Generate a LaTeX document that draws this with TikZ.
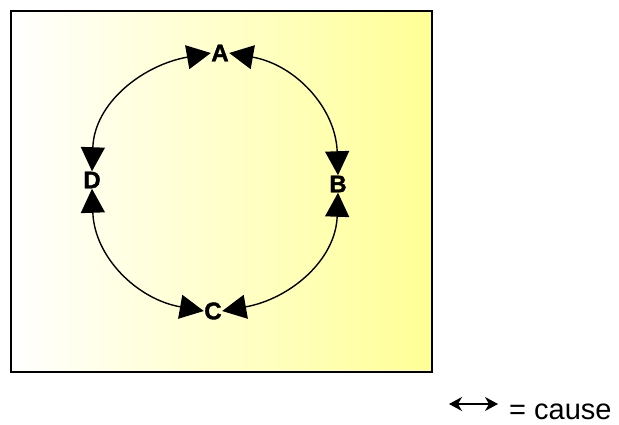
\documentclass[tikz,border=0pt]{standalone}
\usepackage{fontspec}
\setmainfont{Liberation Sans}
\newfontfamily\heavyfont{Liberation Sans Bold}[FakeBold=1.6]
\usetikzlibrary{arrows.meta}
\definecolor{paleyellow}{RGB}{255,255,150}
\tikzset{
  lbl/.style={font=\heavyfont\fontsize{24}{24}\selectfont, inner sep=0.3pt, text=black},
  link/.style={line width=1.4pt, {Triangle[length=24pt,width=24pt]}-{Triangle[length=24pt,width=24pt]}},
}
\begin{document}
\begin{tikzpicture}[x=1pt,y=1pt]
\useasboundingbox (0,0) rectangle (619,424);
\shade[left color=white, right color=paleyellow] (11,52) rectangle (432,413);
\draw[line width=1.2pt] (11,52) rectangle (432,413);
\node[lbl] (A) at (220,371) {A};
\node[lbl] (B) at (338,240) {B};
\node[lbl] (C) at (213,113) {C};
\node[lbl] (D) at (92,244) {D};
\draw[link] (A.east) to[out=-10, in=92, looseness=1.05] (B.north);
\draw[link] (A.west) to[out=190, in=88, looseness=1.05] (D.north);
\draw[link] (D.south) to[out=-88, in=170, looseness=1.05] (C.west);
\draw[link] (C.east) to[out=10, in=-92, looseness=1.05] (B.south);
\coordinate (l1) at (449,20);
\coordinate (l2) at (498,20);
\draw[line width=1.3pt, {Stealth[length=13pt,width=14pt,inset=4pt]}-{Stealth[length=13pt,width=14pt,inset=4pt]}] (l1) -- (l2);
\node[font=\fontsize{29}{29}\selectfont, anchor=base west, inner sep=0pt] (leg) at (509,5) {= cause};
\end{tikzpicture}
\end{document}
